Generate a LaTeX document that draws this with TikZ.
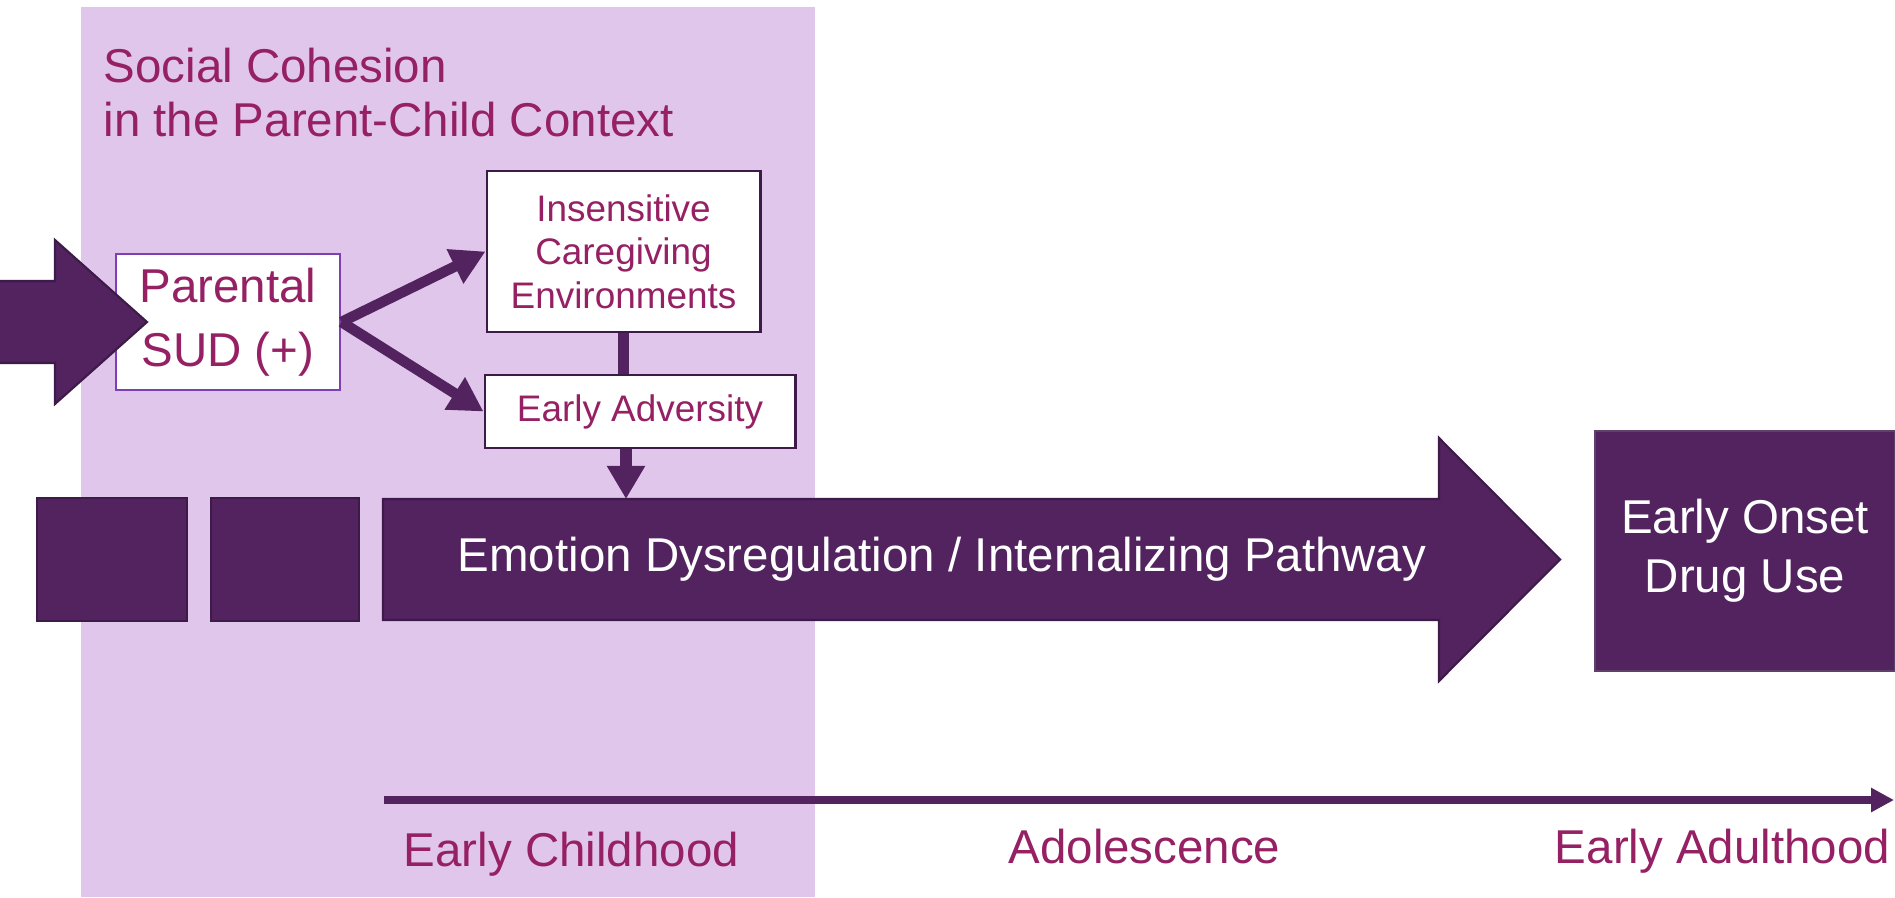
\documentclass[tikz,border=0pt]{standalone}
\usepackage{fontspec}
\setmainfont{Liberation Sans}
\usetikzlibrary{arrows.meta}

\definecolor{deeppurple}{HTML}{52235F}
\definecolor{darkline}{HTML}{3E1A49}
\definecolor{lilac}{HTML}{E1C6EB}
\definecolor{plum}{HTML}{962064}
\definecolor{boxline}{HTML}{7E3FB5}

\begin{document}
\begin{tikzpicture}[x=0.01cm, y=-0.01cm,
	bigtext/.style={font=\fontsize{13.5}{15.6}\selectfont},
	smalltext/.style={font=\fontsize{10.5}{12.4}\selectfont},
	whitebox/.style={draw=darkline, line width=0.8pt, fill=white, text=plum, align=center, inner sep=0pt},
	darkshape/.style={fill=deeppurple, draw=darkline, line width=0.6pt},
	pathline/.style={draw=deeppurple, line width=1.05mm, arrows={-Triangle[length=3.4mm, width=3.6mm]}}]
	\useasboundingbox (0,0) rectangle (1895,897);

	% parent-child context
	\fill[lilac] (81,7) rectangle (815,897);
	\node[bigtext, text=plum, align=left, anchor=north west, inner sep=0pt] (title) at (103,47)
	{Social Cohesion\\in the Parent-Child Context};

	% pathway
	\draw[darkshape] (37,498) rectangle (187,621);
	\draw[darkshape] (211,498) rectangle (359,621);
	\draw[darkshape] (383,499) -- (1439,499) -- (1439,438) -- (1560,559.5)
		-- (1439,681) -- (1439,620) -- (383,620) -- cycle;
	\node[bigtext, text=white] (emo) at (942,559) {Emotion Dysregulation / Internalizing Pathway};
	\coordinate (emotop) at (626,499);
	\node[darkshape, font=\fontsize{13.5}{16.8}\selectfont, text=white, align=center, draw=deeppurple!70!gray, minimum width=3cm, minimum height=2.4cm, inner sep=0pt] (drug) at (1745,551) {Early Onset\\Drug Use};

	% boxes
	\node[whitebox, font=\fontsize{13.5}{18.2}\selectfont, draw=boxline, minimum width=2.24cm, minimum height=1.36cm] (par) at (228,322) {Parental\\SUD (+)};
	\node[whitebox, smalltext, minimum width=2.73cm, minimum height=1.61cm] (ins) at (623.5,251.5) {Insensitive\\Caregiving\\Environments};
	\node[whitebox, smalltext, minimum width=3.1cm, minimum height=0.73cm] (adv) at (640,411.5) {Early Adversity};

	\draw[pathline] (par.east) -- (ins.west);
	\draw[pathline] (par.east) -- (adv.west);
	\draw[draw=deeppurple, line width=1.1mm] (ins.south) -- (ins.south |- adv.north);
	\draw[draw=deeppurple, line width=1.2mm, arrows={-Triangle[length=3.3mm, width=3.6mm]}] (adv.south -| emotop) -- (emotop);

	% incoming arrow
	\draw[darkshape] (-10,281) -- (55,281) -- (55,240) -- (147,322) -- (55,404) -- (55,363) -- (-10,363) -- cycle;

	% timeline
	\coordinate (tstart) at (384,800);
	\coordinate (tend) at (1894,800);
	\draw[draw=deeppurple, line width=0.75mm, arrows={-Triangle[length=2.3mm, width=2.3mm]}] (tstart) -- (tend);
	\node[bigtext, text=plum, anchor=base] (child) at (571.5,866) {Early Childhood};
	\node[bigtext, text=plum, anchor=base] (adol) at (1144.5,863) {Adolescence};
	\node[bigtext, text=plum, anchor=base] (adult) at (1722.5,863) {Early Adulthood};
\end{tikzpicture}
\end{document}
